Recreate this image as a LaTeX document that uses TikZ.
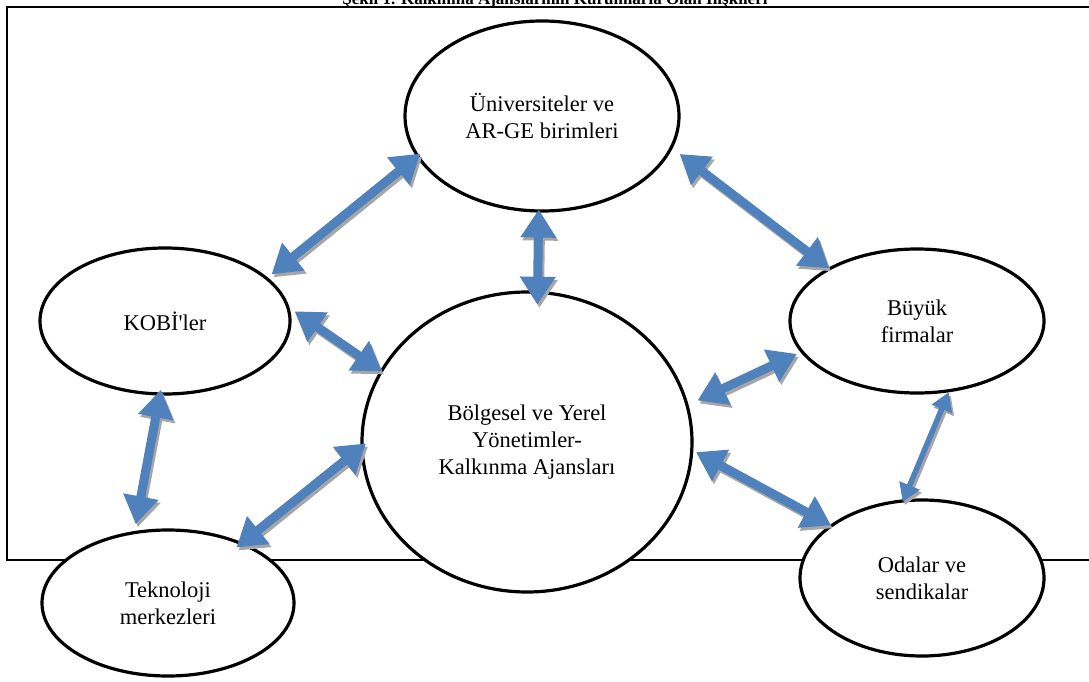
\documentclass[tikz,border=0pt]{standalone}
\usepackage{fontspec}
\setmainfont{Liberation Serif}
\usetikzlibrary{shapes.geometric,arrows.meta}
\definecolor{arrblue}{HTML}{4F81BD}
\definecolor{shadowgray}{HTML}{A6A6A6}
\tikzset{
  ell/.style={ellipse, draw=black, line width=3.2pt, fill=white, inner sep=0pt, align=center,
    font=\fontsize{22.5}{27}\selectfont},
  bigarr/.style={line width=9pt, {Triangle[width=34pt,length=28pt]}-{Triangle[width=34pt,length=28pt]}},
  smallarr/.style={line width=5.5pt, {Triangle[width=21pt,length=18pt]}-{Triangle[width=21pt,length=18pt]}},
  frameline/.style={line width=2pt, draw=black}
}
\newcommand{\biarrow}[5][bigarr]{%
  \draw[#1, draw=shadowgray, fill=shadowgray, shorten <=#4, shorten >=#5, transform canvas={shift={(2pt,-3pt)}}] (#2) -- (#3);
  \draw[#1, draw=arrblue, fill=arrblue, shorten <=#4, shorten >=#5] (#2) -- (#3);}
\begin{document}
\begin{tikzpicture}[x=1pt,y=-1pt]
\useasboundingbox (0,0) rectangle (1089,682);
\clip (0,0) rectangle (1089,682);
\node[anchor=base, font=\fontsize{17}{20}\selectfont\bfseries] (title) at (555,5) {Şekil 1. Kalkınma Ajanslarının Kurumlarla Olan İlişkileri};
\draw[frameline] (1089,7) -- (7,7) -- (7,560) -- (1089,560);
\node[ell, minimum width=274pt, minimum height=190pt] (u) at (542,116) {Üniversiteler ve\\AR-GE birimleri};
\node[ell, minimum width=250pt, minimum height=146pt] (k) at (165,321) {KOBİ\textquotesingle ler};
\node[ell, minimum width=254pt, minimum height=144pt] (b) at (917,321) {Büyük\\firmalar};
\node[ell, minimum width=330pt, minimum height=300pt] (c) at (527,442) {Bölgesel ve Yerel\\Yönetimler-\\Kalkınma Ajansları};
\node[ell, minimum width=252pt, minimum height=146pt] (t) at (168,603) {Teknoloji\\merkezleri};
\node[ell, minimum width=244pt, minimum height=156pt] (o) at (922,578) {Odalar ve\\sendikalar};
\biarrow{u.198}{k.23}{-5pt}{5pt}
\biarrow{u.268}{c.86}{-3pt}{-14pt}
\biarrow{u.346}{b.149}{9pt}{-1pt}
\biarrow{k.6}{c.154}{6pt}{-2pt}
\biarrow{k.266}{t.115}{-6pt}{7pt}
\biarrow{t.39}{c.182.5}{-8pt}{-7pt}
\biarrow{b.195}{c.13}{4pt}{10pt}
\biarrow[smallarr]{b.294}{o.103}{0pt}{-3pt}
\biarrow{c.357}{o.150}{3pt}{-1pt}
\end{tikzpicture}
\end{document}
